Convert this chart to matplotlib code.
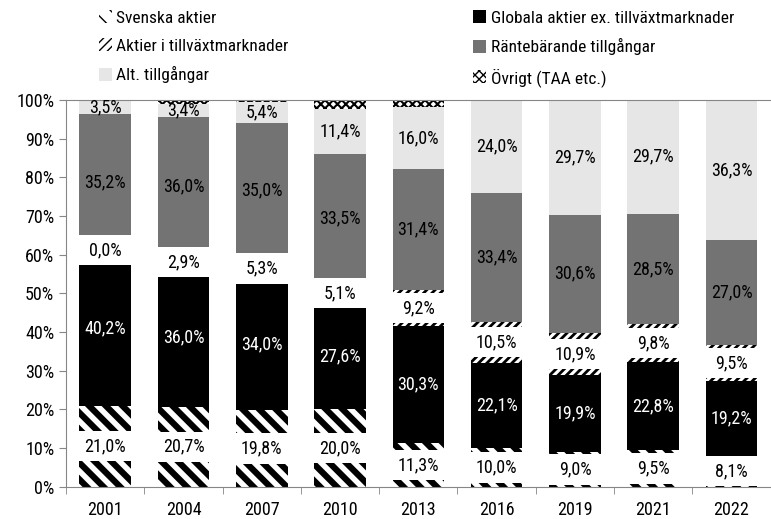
import numpy as np
import matplotlib.pyplot as plt
from matplotlib import font_manager as fm
from matplotlib.patches import Patch

# smal font om någon finns installerad
font_name, font_stretch = 'DejaVu Sans', 'normal'
pref = ['Roboto Condensed', 'Liberation Sans Narrow', 'Noto Sans', 'Open Sans',
        'DejaVu Sans', 'Roboto', 'Lato', 'Inter']
narrow = [f for f in fm.fontManager.ttflist
          if f.style == 'normal' and f.weight in (400, 'normal', 'regular')
          and (f.stretch in ('condensed', 'semi-condensed', 'extra-condensed')
               or 'Condensed' in f.name or 'Narrow' in f.name)]
for p in pref:
    hit = [f for f in narrow if f.name == p]
    if hit:
        font_name, font_stretch = hit[0].name, hit[0].stretch
        break
else:
    if narrow:
        font_name, font_stretch = narrow[0].name, narrow[0].stretch

plt.rcParams['font.family'] = [font_name, 'DejaVu Sans']
plt.rcParams['font.stretch'] = font_stretch
plt.rcParams['font.size'] = 12

# andelar i procent per år
years = ['2001', '2004', '2007', '2010', '2013', '2016', '2019', '2021', '2022']
svenska = [21.0, 20.7, 19.8, 20.0, 11.3, 10.0, 9.0, 9.5, 8.1]
globala = [40.2, 36.0, 34.0, 27.6, 30.3, 22.1, 19.9, 22.8, 19.2]
tillvaxt = [0.0, 2.9, 5.3, 5.1, 9.2, 10.5, 10.9, 9.8, 9.5]
rante = [35.2, 36.0, 35.0, 33.5, 31.4, 33.4, 30.6, 28.5, 27.0]
alt = [3.5, 3.4, 5.4, 11.4, 16.0, 24.0, 29.7, 29.7, 36.3]
ovrigt = [0.1, 1.0, 0.5, 2.1, 1.6, 0.0, 0.0, 0.0, 0.0]

names = ['Svenska aktier', 'Globala aktier ex. tillväxtmarknader',
         'Aktier i tillväxtmarknader', 'Räntebärande tillgångar',
         'Alt. tillgångar', 'Övrigt (TAA etc.)']

# stil: (färg, hatch, hatch-linjebredd, textfärg, vit etikettruta, etikett)
styles = [
    ('white', '\\\\', 4.5, 'black', True, True),
    ('black', None, 0, 'white', False, True),
    ('white', '////', 2.0, 'black', True, True),
    ('#737373', None, 0, 'black', False, True),
    ('#e6e6e6', None, 0, 'black', False, True),
    ('white', 'xxxx', 1.5, 'black', False, False),
]
series = [svenska, globala, tillvaxt, rante, alt, ovrigt]

fig = plt.figure(figsize=(7.71, 5.19), dpi=100)
ax = fig.add_axes([0.0856, 0.062, 0.914, 0.745])

x = np.arange(len(years))
w = 0.66
box_h = 7.8
bottom = np.zeros(len(years))
handles = []
for vals, name, (fc, hatch, hlw, tc, boxed, lab) in zip(series, names, styles):
    vals = np.array(vals)
    bars = ax.bar(x, vals, w, bottom=bottom, color=fc, hatch=hatch,
                  edgecolor='black' if hatch else fc, linewidth=0, zorder=2)
    if hatch:
        for b in bars:
            if hasattr(b, 'set_hatch_linewidth'):
                b.set_hatch_linewidth(hlw)
    handles.append(Patch(facecolor=fc, hatch=hatch,
                         edgecolor='black' if hatch else fc, linewidth=0))
    mid = bottom + vals / 2
    if boxed:
        ax.bar(x, box_h, w, bottom=mid - box_h / 2, color='white',
               linewidth=0, zorder=3)
    if lab:
        for xi, v, m in zip(x, vals, mid):
            ax.text(xi, m, f'{v:.1f}%'.replace('.', ','), ha='center',
                    va='center', color=tc, fontsize=13, zorder=4)
    bottom = bottom + vals

for h, s in zip(handles, styles):
    if s[1] and hasattr(h, 'set_hatch_linewidth'):
        h.set_hatch_linewidth(s[2])

ax.set_xlim(-0.5, len(years) - 0.5)
ax.set_ylim(0, 100)
ax.set_xticks(x)
ax.set_xticklabels(years, fontsize=13)
ax.set_xticks(np.arange(len(years) + 1) - 0.5, minor=True)
ax.set_yticks(range(0, 101, 10))
ax.set_yticklabels([f'{t}%' for t in range(0, 101, 10)], fontsize=13)
ax.tick_params(axis='x', which='major', length=0, pad=10)
ax.tick_params(axis='x', which='minor', length=5, color='#868686')
ax.tick_params(axis='y', length=5, color='#868686')
for side in ['left', 'bottom', 'top']:
    ax.spines[side].set_color('#868686')
ax.spines['right'].set_visible(False)

kw = dict(frameon=False, loc='upper left', handlelength=0.75, handleheight=0.75,
          handletextpad=0.25, labelspacing=0.72, borderpad=0, borderaxespad=0,
          fontsize=12.5)
fig.legend([handles[0], handles[2], handles[4]], [names[0], names[2], names[4]],
           bbox_to_anchor=(0.128, 0.98), **kw)
fig.legend([handles[1], handles[3], handles[5]], [names[1], names[3], names[5]],
           bbox_to_anchor=(0.614, 0.98), **kw)

fig.savefig('out.png', dpi=100)
